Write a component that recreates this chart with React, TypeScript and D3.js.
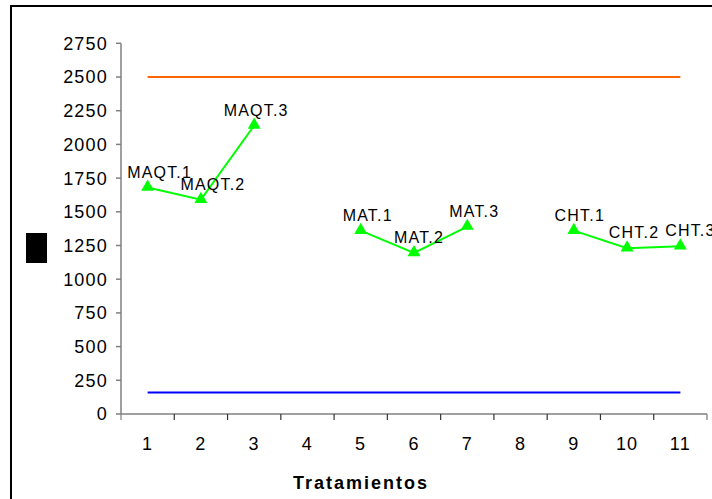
import React from "react";
import * as d3 from "d3";

const categories = ["1", "2", "3", "4", "5", "6", "7", "8", "9", "10", "11"];
const yTicks = [0, 250, 500, 750, 1000, 1250, 1500, 1750, 2000, 2250, 2500, 2750];

const groupMAQT = { labels: ["MAQT.1", "MAQT.2", "MAQT.3"], cats: ["1", "2", "3"], values: [1680, 1590, 2140] };
const groupMAT = { labels: ["MAT.1", "MAT.2", "MAT.3"], cats: ["5", "6", "7"], values: [1360, 1195, 1390] };
const groupCHT = { labels: ["CHT.1", "CHT.2", "CHT.3"], cats: ["9", "10", "11"], values: [1360, 1230, 1245] };
const groups = [groupMAQT, groupMAT, groupCHT];

const upperLimit = 2500;
const lowerLimit = 160;

const xTitle = "Tratamientos";

// label nudges (style only)
const labelDx: Record<string, number> = {
  "MAQT.1": 12, "MAQT.2": 12, "MAQT.3": 2,
  "MAT.1": 7, "MAT.2": 5, "MAT.3": 7,
  "CHT.1": 6, "CHT.2": 7, "CHT.3": 10,
};

const FONT = "'Liberation Sans', Arial, sans-serif";

export default function App() {
  const W = 712, H = 499;
  const left = 121, right = 707, top = 43.3, bottom = 414;
  const x = d3.scaleBand<string>().domain(categories).range([left, right]).padding(0);
  const y = d3.scaleLinear().domain([0, 2750]).range([bottom, top]);
  const cx = (c: string) => (x(c) as number) + x.bandwidth() / 2;
  const line = d3.line<[number, number]>().x(d => d[0]).y(d => d[1]);
  const tri = d3.symbol().type(d3.symbolTriangle).size(72)();
  const firstC = cx(categories[0]);
  const lastC = cx(categories[categories.length - 1]);
  const axisColor = "#808080";

  return (
    <svg width={W} height={H} style={{ position: "absolute", left: 0, top: 0, background: "#fff" }} fontFamily={FONT}>
      <rect x={0} y={0} width={W} height={H} fill="#fff" />
      <rect x={11} y={6} width={730} height={520} fill="none" stroke="#000" strokeWidth={2} />
      <rect x={26} y={233} width={21} height={30} fill="#000" />

      {/* reference lines */}
      <path d={line([[firstC, y(upperLimit)], [lastC, y(upperLimit)]]) as string} stroke="#FF6600" strokeWidth={2.2} fill="none" />
      <path d={line([[firstC, y(lowerLimit)], [lastC, y(lowerLimit)]]) as string} stroke="#0000FF" strokeWidth={2} fill="none" />

      {/* y axis */}
      <line x1={left} x2={left} y1={top} y2={bottom} stroke={axisColor} strokeWidth={1.5} />
      {yTicks.map(t => (
        <g key={t}>
          <line x1={left - 5} x2={left} y1={y(t)} y2={y(t)} stroke={axisColor} strokeWidth={1.5} />
          <text x={left - 13} y={y(t)} dy="0.36em" textAnchor="end" fontSize={18} letterSpacing={1.2} fill="#000">{t}</text>
        </g>
      ))}

      {/* x axis */}
      <line x1={left} x2={right} y1={bottom} y2={bottom} stroke={axisColor} strokeWidth={1.5} />
      {categories.map((c, i) => (
        <line key={"t" + c} x1={(x(c) as number)} x2={(x(c) as number)} y1={bottom} y2={bottom + 6} stroke={i === 0 ? axisColor : "#333"} strokeWidth={1.2} />
      ))}
      <line x1={right} x2={right} y1={bottom} y2={bottom + 6} stroke={axisColor} strokeWidth={1.3} />
      {categories.map(c => (
        <text key={"l" + c} x={cx(c)} y={450} textAnchor="middle" fontSize={18} letterSpacing={1.2} fill="#000">{c}</text>
      ))}
      <text x={361} y={489} textAnchor="middle" fontSize={18} fontWeight="bold" letterSpacing={2} fill="#000">{xTitle}</text>

      {/* series */}
      {groups.map((g, gi) => {
        const pts = g.cats.map((c, i) => [cx(c), y(g.values[i])] as [number, number]);
        return (
          <g key={gi}>
            <path d={line(pts) as string} stroke="#00FF00" strokeWidth={2} fill="none" />
            {pts.map((p, i) => (
              <path key={i} d={tri as string} transform={`translate(${p[0]},${p[1] - 0.5})`} fill="#00FF00" />
            ))}
            {pts.map((p, i) => (
              <text key={"lab" + i} x={p[0] + labelDx[g.labels[i]]} y={p[1] - 10} textAnchor="middle" fontSize={16} letterSpacing={1.2} fill="#000">{g.labels[i]}</text>
            ))}
          </g>
        );
      })}
    </svg>
  );
}
